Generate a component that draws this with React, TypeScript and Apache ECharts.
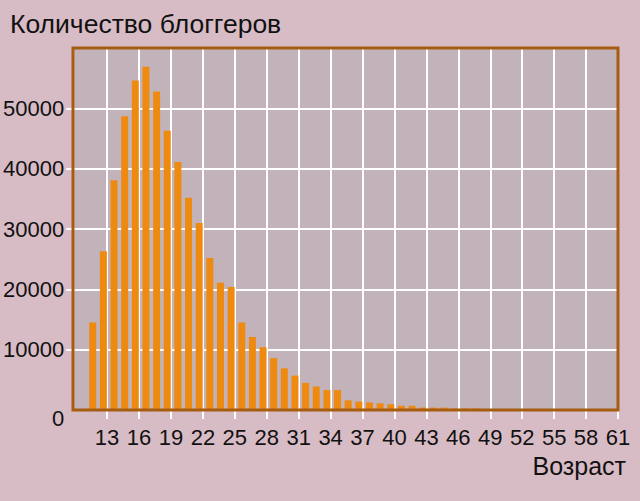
import React, { useEffect, useRef } from "react";
import * as echarts from "echarts";

const ages = [12, 13, 14, 15, 16, 17, 18, 19, 20, 21, 22, 23, 24, 25, 26, 27, 28, 29, 30, 31, 32, 33, 34, 35, 36, 37, 38, 39, 40, 41, 42, 43, 44, 45, 46, 47, 48, 49, 50];
const bloggers = [14500, 26300, 38100, 48700, 54600, 56900, 52800, 46300, 41100, 35200, 31000, 25200, 21100, 20400, 14500, 12100, 10400, 8600, 6900, 5700, 4500, 3900, 3300, 3300, 1600, 1400, 1250, 1100, 950, 700, 700, 400, 400, 400, 250, 250, 250, 120, 80];
const tickAges = [13, 16, 19, 22, 25, 28, 31, 34, 37, 40, 43, 46, 49, 52, 55, 58, 61];
const yTicks = [10000, 20000, 30000, 40000, 50000];

const AGE_MIN = 10;
const AGE_MAX = 61;
const BAR_SHIFT = -0.35;

const FONT = "'Liberation Sans Narrow', 'Liberation Sans', Arial, sans-serif";
const BG = "#d8bcc5";
const PLOT_BG = "#c1b3b9";
const FRAME = "#a65d0f";
const BAR = "#ef8a10";

const G = { left: 73, right: 22, top: 48, bottom: 91 };
const W = 640;
const H = 501;

export default function App() {
  const ref = useRef<HTMLDivElement>(null);
  useEffect(() => {
    if (!ref.current) return;
    const chart = echarts.init(ref.current, null, { renderer: "svg" });
    const option = {
      animation: false,
      backgroundColor: BG,
      grid: {
        left: G.left,
        right: G.right,
        top: G.top,
        bottom: G.bottom,
        show: true,
        backgroundColor: PLOT_BG,
        borderWidth: 0,
      },
      xAxis: {
        type: "value",
        min: 0,
        max: AGE_MAX - AGE_MIN,
        interval: 3,
        axisLine: { show: false },
        axisTick: {
          show: true,
          length: 9,
          lineStyle: { color: "#ffffff", width: 2 },
          customValues: tickAges.map((a) => a - AGE_MIN),
        },
        axisLabel: {
          fontFamily: FONT,
          fontSize: 22,
          color: "#111111",
          margin: 16,
          customValues: tickAges.map((a) => a - AGE_MIN),
          formatter: (v: number) => String(Math.round(v + AGE_MIN)),
        },
        splitLine: { show: true, lineStyle: { color: "#ffffff", width: 2 } },
      },
      yAxis: {
        type: "value",
        min: 0,
        max: 60000,
        interval: 10000,
        axisLine: { show: false },
        axisTick: {
          show: true,
          length: 9,
          lineStyle: { color: "#ffffff", width: 2 },
          customValues: yTicks,
        },
        axisLabel: {
          fontFamily: FONT,
          fontSize: 22,
          color: "#111111",
          margin: 11,
          formatter: (v: number) => (v === 60000 ? "" : v === 0 ? "{z|0}" : String(v)),
          rich: { z: { fontFamily: FONT, fontSize: 22, color: "#111111", padding: [16, 0, 0, 0] } },
        },
        splitLine: { show: true, lineStyle: { color: "#ffffff", width: 2 } },
      },
      series: [
        {
          type: "bar",
          barWidth: 7,
          itemStyle: { color: BAR },
          data: ages.map((a, i) => [a - AGE_MIN + BAR_SHIFT, bloggers[i]]),
        },
      ],
      graphic: [
        {
          type: "rect",
          z: 100,
          shape: { x: G.left, y: G.top, width: W - G.left - G.right, height: H - G.top - G.bottom },
          style: { fill: "none", stroke: FRAME, lineWidth: 3 },
          silent: true,
        },
        {
          type: "text",
          left: 10,
          top: 10,
          style: { text: "Количество блоггеров", font: `26.5px ${FONT}`, fill: "#111111" },
        },
        {
          type: "text",
          right: 14,
          top: 453,
          style: { text: "Возраст", font: `25px ${FONT}`, fill: "#111111" },
        },
      ],
    };
    chart.setOption(option as any);
    return () => chart.dispose();
  }, []);
  return (
    <div
      ref={ref}
      style={{ position: "fixed", left: 0, top: 0, width: W, height: H }}
    />
  );
}
